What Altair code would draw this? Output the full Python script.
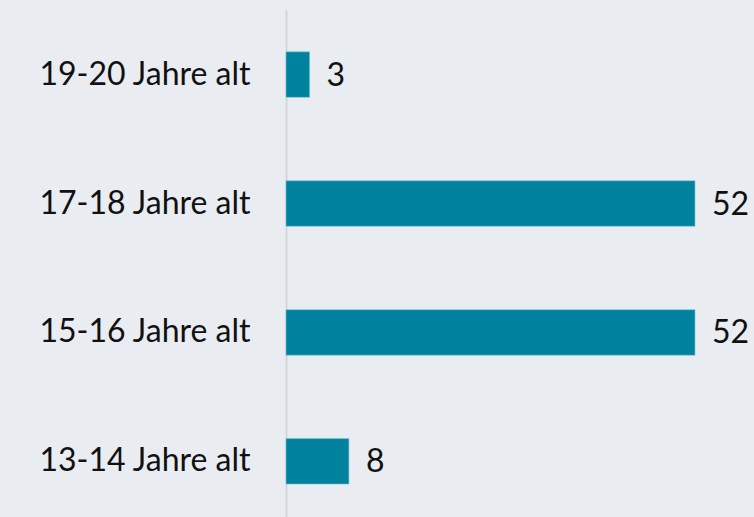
import altair as alt
import pandas as pd

categories = ["19-20 Jahre alt", "17-18 Jahre alt", "15-16 Jahre alt", "13-14 Jahre alt"]
values = [3, 52, 52, 8]

df = pd.DataFrame({"cat": categories, "val": values})

FONT = "Lato"
FS = 32
BAR = "#00829f"

y = alt.Y("cat:N", sort=categories, title=None,
          scale=alt.Scale(paddingInner=0.647, paddingOuter=0.29, align=0.56),
          axis=alt.Axis(labelFont=FONT, labelFontSize=FS, labelColor="#111111",
                        labelPadding=36, ticks=False, domainColor="#d3d6d9",
                        domainWidth=2, grid=False, labelLimit=400))
x = alt.X("val:Q", scale=alt.Scale(domain=[0, 52]), axis=None)

bars = alt.Chart(df).mark_bar(color=BAR, stroke="#7fc3d3", strokeWidth=0.6).encode(x=x, y=y)
text = alt.Chart(df).mark_text(align="left", baseline="middle", dx=17, dy=1,
                               font=FONT, fontSize=FS, color="#111111").encode(
    x=x, y=y, text=alt.Text("val:Q"))

chart = (bars + text).properties(
    width=409, height=507,
    autosize=alt.AutoSizeParams(type="none"),
    padding={"left": 286, "top": 10, "right": 59, "bottom": 0},
    background="#e9ecf0",
).configure_view(stroke=None)

chart.save("out.html", embed_options={"renderer": "svg", "actions": False})
